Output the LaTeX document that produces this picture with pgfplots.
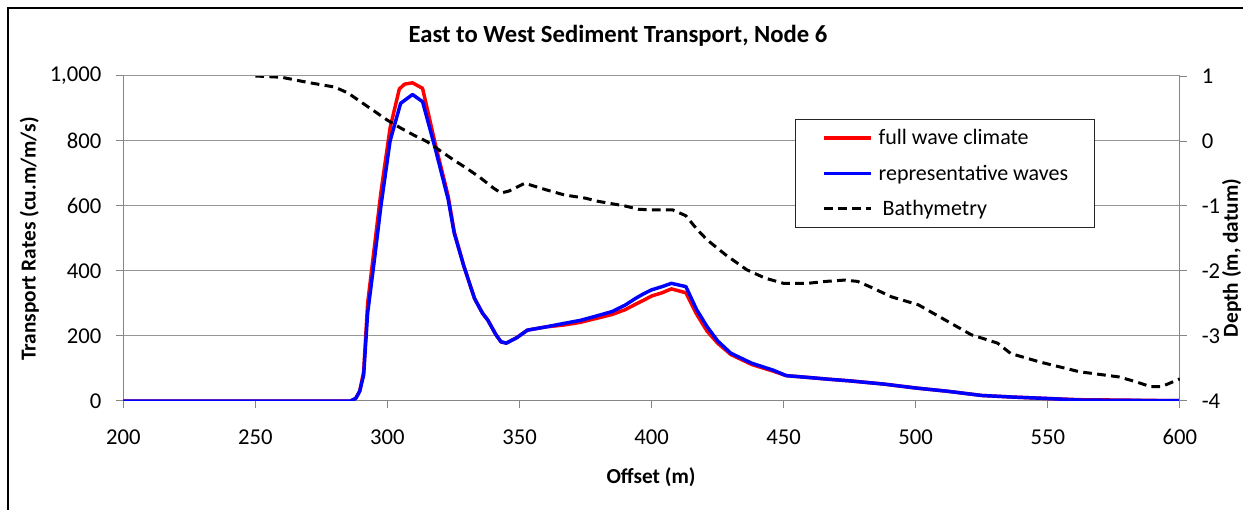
\documentclass[border=0pt]{standalone}
\usepackage{fontspec}
\setmainfont{Carlito}
\usepackage{pgfplots}
\pgfplotsset{compat=1.18}

\definecolor{axisgray}{RGB}{134,134,134}
\definecolor{gridgray}{RGB}{150,150,150}

% Transport rates (cu.m/m/s) along the profile
\pgfplotstableread{
x y
200 0
284 0
286 0
288 8
289.5 30
291 90
292.5 300
295 470
297.5 640
301 840
304.5 960
306.5 975
309.5 979
313.3 962
318 795
323 630
325.3 520
329 413
333 315
336 270
338 249
341 205
343 182
345 178
349 195
353 218
360 228
367 234
373 242
378 252
385 266
390 281
394 298
397 310
400 323
404 333
407.5 345
413 333
417 268
421 215
425 178
430 143
438 112
446 92
451 78
460 72
467 67
475 62
488 52
500 40
512 30
525 17
537 12
549 8
562 4
575 3
585 2
600 1
}\fullwave

\pgfplotstableread{
x y
200 0
284 0
286 0
288 8
289.5 30
291 80
292.5 270
295 430
297.5 598
301 800
305 916
309.5 943
313.3 921
318 780
323 620
325.3 516
329 413
333 315
336 270
338 249
341 205
343 182
345 178
349 195
353 218
360 228
367 239
373 248
378 259
385 275
390 295
394 316
397 330
400 342
404 352
407.5 362
413 352
417 282
421 229
425 185
430 147
438 116
446 95
451 78
460 72
467 67
475 62
488 52
500 40
512 30
525 17
537 12
549 8
562 3
575 2
600 1
}\repwaves

% Bed level (m, datum)
\pgfplotstableread{
x d
250 1.0
260 0.98
270 0.9
280 0.83
285 0.74
290 0.6
295 0.46
300 0.32
305 0.2
310 0.09
315 -0.01
320 -0.15
325 -0.29
330 -0.42
335 -0.56
340 -0.72
343 -0.80
346 -0.77
352 -0.65
360 -0.75
367 -0.83
375 -0.88
380 -0.93
390 -1.0
395 -1.05
400 -1.06
408 -1.06
413 -1.15
417 -1.35
421 -1.52
428 -1.75
436 -1.98
443 -2.11
450 -2.19
459 -2.19
466 -2.16
473 -2.14
478 -2.16
482 -2.23
491 -2.40
501 -2.52
511 -2.75
521 -2.98
531 -3.11
536 -3.27
547 -3.40
562 -3.55
577 -3.63
583 -3.70
589 -3.78
593 -3.78
600 -3.66
}\bathy

\pgfplotsset{
  common/.style={
    scale only axis, width=792.4pt, height=243.75pt,
    at={(0,0)}, anchor=south west,
    xmin=200, xmax=600,
    axis line style={axisgray, line width=0.75pt},
    tick style={axisgray, line width=0.75pt},
    major tick length=5.25pt, tick align=outside,
    /pgf/number format/1000 sep={,},
    /pgf/number format/assume math mode=true,
    tick label style={font=\fontsize{17}{20}\selectfont, inner sep=0pt},
    label style={font=\fontsize{16}{19}\selectfont\bfseries},
  }
}

\begin{document}
\begin{tikzpicture}[x=0.75pt, y=0.75pt, font=\fontsize{16.5}{19}\selectfont]
\useasboundingbox (-123.3,-109) rectangle (1119.7,401);
\clip (-123.3,-109) rectangle (1119.7,401);
% chart frame
\draw[line width=1.5pt] (-115.3,-200) -- (-115.3,393) -- (1300,393);

\begin{axis}[common,
  axis x line*=bottom, axis y line*=left,
  ymin=0, ymax=1000,
  xtick={200,250,...,600}, ytick={0,200,...,1000},
  ymajorgrids, grid style={gridgray, line width=0.75pt},
  xticklabel style={anchor=north, yshift=-16pt},
  yticklabel style={anchor=east, xshift=-11pt},
  xlabel={Offset (m)}, ylabel={Transport Rates (cu.m/m/s)},
  xlabel style={at={(axis description cs:0.4995,-0.2338)}, anchor=center},
  ylabel style={at={(axis description cs:-0.0888,0.498)}, anchor=center},
]
\addplot[red, line width=2.6pt, line join=round] table[x=x, y=y] {\fullwave};
\addplot[blue, line width=2.6pt, line join=round] table[x=x, y=y] {\repwaves};
\end{axis}

\begin{axis}[common,
  axis x line=none, axis y line*=right,
  ymin=-4, ymax=1, ytick={-4,...,1},
  yticklabel style={anchor=west, xshift=11pt},
  ylabel={Depth (m, datum)},
  ylabel style={at={(axis description cs:1.0491,0.44)}, anchor=center},
  legend cell align=left,
  legend image code/.code={\draw[#1] (0pt,0pt) -- (35.25pt,0pt); \path (39.75pt,0pt);},
  legend style={at={(0.6358,0.8677)}, anchor=north west,
    draw=black!85, line width=0.75pt, fill=white,
    inner xsep=20pt, inner ysep=5pt, row sep=9.1pt,
    nodes={inner sep=0pt, text height=14pt, text depth=3.5pt},
    font=\fontsize{16.5}{19}\selectfont},
]
\addlegendimage{red, line width=2.6pt}
\addlegendentry{full wave climate}
\addlegendimage{blue, line width=2.6pt}
\addlegendentry{representative waves}
\addplot[black, line width=2.25pt, dash pattern=on 6.5pt off 4pt] table[x=x, y=d] {\bathy};
\addlegendentry{\hspace{3pt}Bathymetry}
\end{axis}

\node[font=\fontsize{18.5}{22}\selectfont\bfseries] at (494.7,365) {East to West Sediment Transport, Node 6};
\end{tikzpicture}
\end{document}
